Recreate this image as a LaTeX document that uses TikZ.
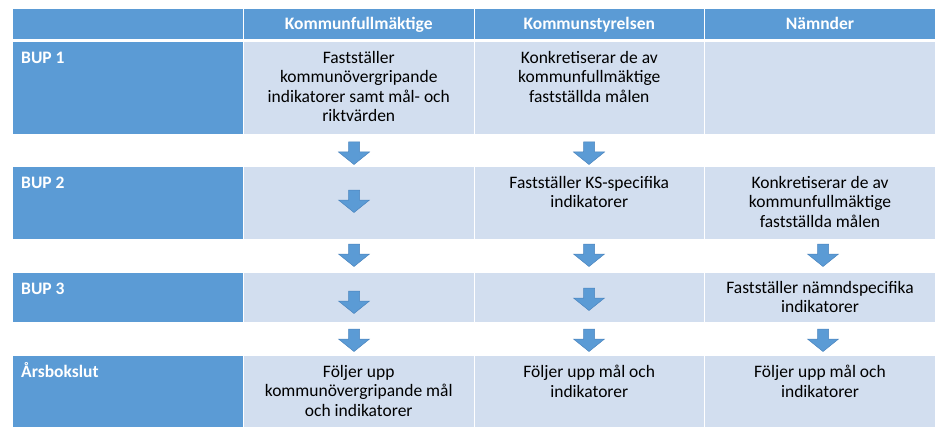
\documentclass[tikz,border=0pt]{standalone}
\usepackage{fontspec}
\setmainfont{Carlito}
\definecolor{hdblue}{HTML}{5B9BD5}
\definecolor{cellblue}{HTML}{D2DEEF}
\definecolor{arrowline}{HTML}{4A84BE}
\begin{document}
\begin{tikzpicture}[x=1pt,y=-1pt,
  cellbox/.style={draw=none,inner sep=0pt,outer sep=0pt,anchor=north west},
  hdcell/.style={cellbox,fill=hdblue},
  lcell/.style={cellbox,fill=cellblue},
  hdtext/.style={font=\fontsize{17.5}{19.5}\selectfont\bfseries,text=white,inner sep=0pt,anchor=base},
  rowtext/.style={font=\fontsize{17.5}{19.5}\selectfont\bfseries,text=white,inner sep=0pt,anchor=base west},
  celltext/.style={font=\fontsize{17.5}{19.4}\selectfont,text=black,inner sep=0pt,anchor=north,align=center},
  downarrow/.pic={\path[fill=hdblue,draw=arrowline,line width=0.5pt]
     (-5.5,0) -- (5.5,0) -- (5.5,10) -- (15.5,10) -- (0,22.5) -- (-15.5,10) -- (-5.5,10) -- cycle;}
]
\useasboundingbox (0,0) rectangle (945,441);
\fill[white] (0,0) rectangle (945,441);
% columns: 13-242.5, 244-473.5, 475-703.5, 705-935
% rows: header 9-39, r1 42-134, r2 167-238.5, r3 272.7-322.3, r4 356-427
% header row
\node[hdcell,minimum width=229.5,minimum height=30] (h0) at (13,9) {};
\node[hdcell,minimum width=229.5,minimum height=30] (h1) at (244,9) {};
\node[hdcell,minimum width=228.5,minimum height=30] (h2) at (475,9) {};
\node[hdcell,minimum width=230,minimum height=30] (h3) at (705,9) {};
\node[hdtext] (th1) at ([yshift=-21]h1.north) {Kommunfullmäktige};
\node[hdtext] (th2) at ([yshift=-21]h2.north) {Kommunstyrelsen};
\node[hdtext] (th3) at ([yshift=-21]h3.north) {Nämnder};
% row 1
\node[hdcell,minimum width=229.5,minimum height=92] (r1c0) at (13,42) {};
\node[lcell,minimum width=229.5,minimum height=92] (r1c1) at (244,42) {};
\node[lcell,minimum width=228.5,minimum height=92] (r1c2) at (475,42) {};
\node[lcell,minimum width=230,minimum height=92] (r1c3) at (705,42) {};
% row 2
\node[hdcell,minimum width=229.5,minimum height=71.5] (r2c0) at (13,167) {};
\node[lcell,minimum width=229.5,minimum height=71.5] (r2c1) at (244,167) {};
\node[lcell,minimum width=228.5,minimum height=71.5] (r2c2) at (475,167) {};
\node[lcell,minimum width=230,minimum height=71.5] (r2c3) at (705,167) {};
% row 3
\node[hdcell,minimum width=229.5,minimum height=49.6] (r3c0) at (13,272.7) {};
\node[lcell,minimum width=229.5,minimum height=49.6] (r3c1) at (244,272.7) {};
\node[lcell,minimum width=228.5,minimum height=49.6] (r3c2) at (475,272.7) {};
\node[lcell,minimum width=230,minimum height=49.6] (r3c3) at (705,272.7) {};
% row 4
\node[hdcell,minimum width=229.5,minimum height=71] (r4c0) at (13,356) {};
\node[lcell,minimum width=229.5,minimum height=71] (r4c1) at (244,356) {};
\node[lcell,minimum width=228.5,minimum height=71] (r4c2) at (475,356) {};
\node[lcell,minimum width=230,minimum height=71] (r4c3) at (705,356) {};
% row labels
\node[rowtext] (l1) at ([xshift=8,yshift=-21.5]r1c0.north west) {BUP 1};
\node[rowtext] (l2) at ([xshift=8,yshift=-21.5]r2c0.north west) {BUP 2};
\node[rowtext] (l3) at ([xshift=8,yshift=-21.5]r3c0.north west) {BUP 3};
\node[rowtext] (l4) at ([xshift=8,yshift=-21.5]r4c0.north west) {Årsbokslut};
% cell texts
\node[celltext] (t11) at ([yshift=-9]r1c1.north) {Fastställer\\kommunövergripande\\indikatorer samt mål- och\\riktvärden};
\node[celltext] (t12) at ([yshift=-9]r1c2.north) {Konkretiserar de av\\kommunfullmäktige\\fastställda målen};
\node[celltext] (t22) at ([yshift=-9]r2c2.north) {Fastställer KS-specifika\\indikatorer};
\node[celltext] (t23) at ([yshift=-9]r2c3.north) {Konkretiserar de av\\kommunfullmäktige\\fastställda målen};
\node[celltext] (t33) at ([yshift=-8]r3c3.north) {Fastställer nämndspecifika\\indikatorer};
\node[celltext] (t41) at ([yshift=-9]r4c1.north) {Följer upp\\kommunövergripande mål\\och indikatorer};
\node[celltext] (t42) at ([yshift=-9]r4c2.north) {Följer upp mål och\\indikatorer};
\node[celltext] (t43) at ([yshift=-9]r4c3.north) {Följer upp mål och\\indikatorer};
% arrow anchor points (top centre of each arrow)
\coordinate (a1) at (354,142);
\coordinate (a2) at (589,142);
\coordinate (b1) at (354,190);
\coordinate (c1) at (354,244);
\coordinate (c2) at (589,244);
\coordinate (c3) at (823,244);
\coordinate (d1) at (354,291);
\coordinate (d2) at (589,288);
\coordinate (e1) at (354,329);
\coordinate (e2) at (589,329);
\coordinate (e3) at (823,329);
\foreach \p in {a1,a2,b1,c1,c2,c3,d1,d2,e1,e2,e3}
  \pic at (\p) {downarrow};
\end{tikzpicture}
\end{document}
